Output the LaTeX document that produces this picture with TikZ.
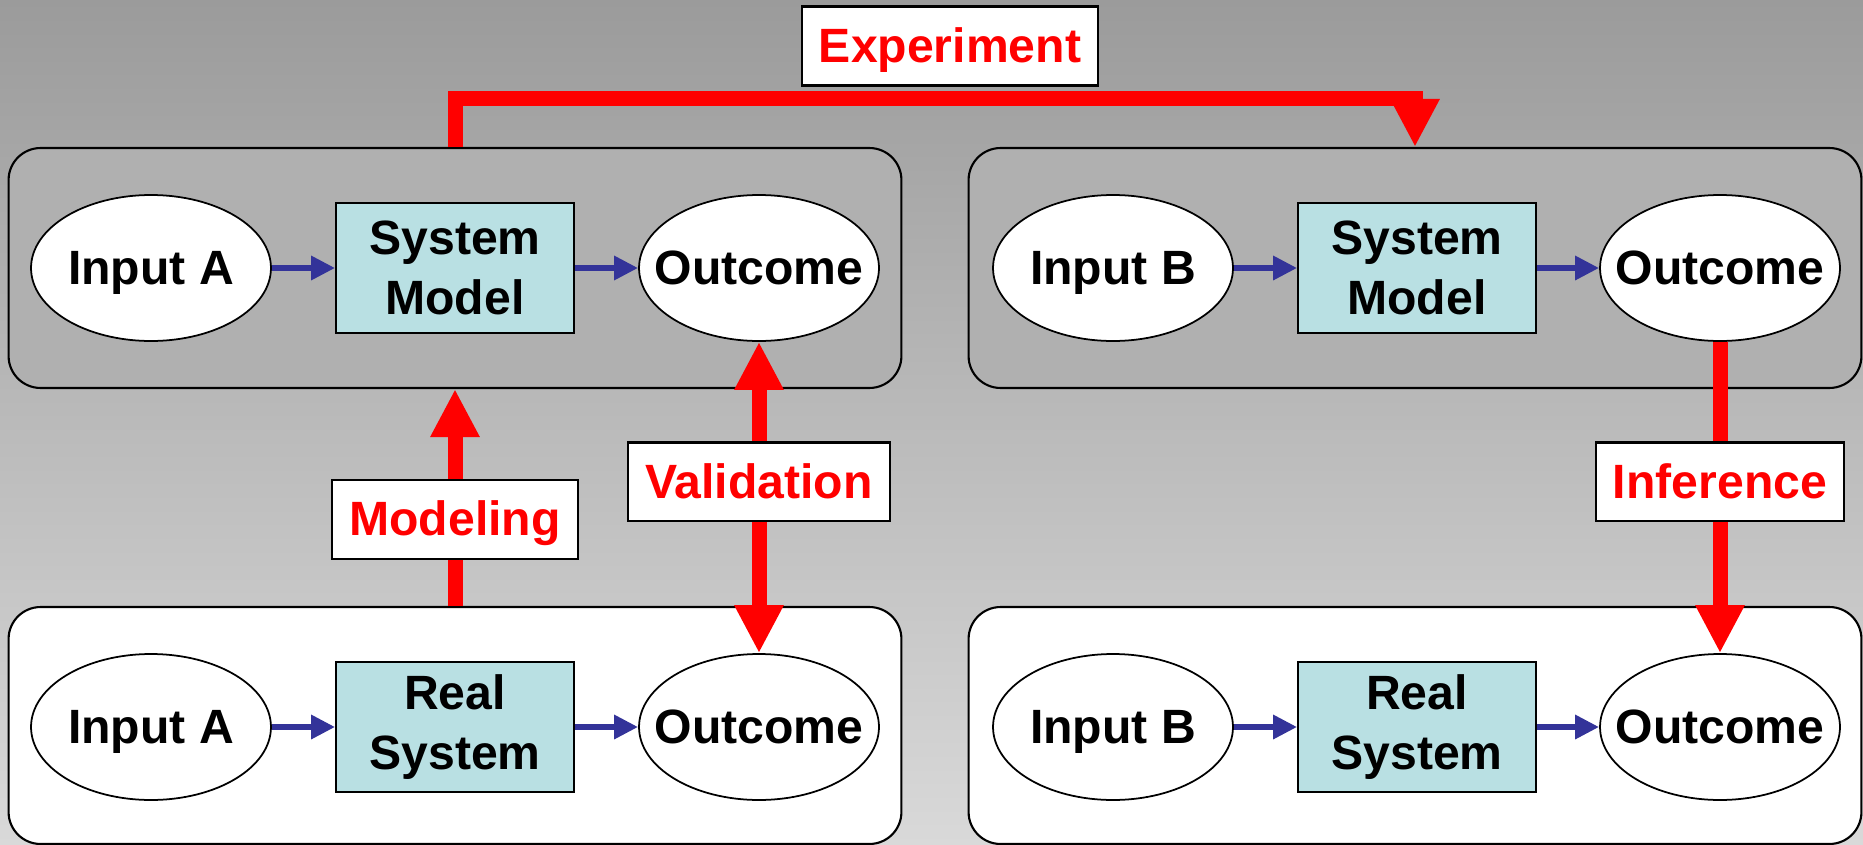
\documentclass[tikz,border=0pt]{standalone}
\usepackage{fontspec}
\setmainfont{Liberation Sans}
\usetikzlibrary{shapes.geometric, arrows.meta}
\definecolor{bgtop}{RGB}{155,155,155}
\definecolor{bgmid}{RGB}{198,198,198}
\definecolor{bgbot}{RGB}{217,217,217}
\definecolor{panelgray}{RGB}{176,176,176}
\definecolor{boxcyan}{RGB}{185,224,227}
\definecolor{flowblue}{RGB}{51,51,153}
\newcommand{\bigfont}{\fontsize{27.4}{34}\selectfont\bfseries}

\begin{document}
\begin{tikzpicture}[x=0.02cm, y=-0.02cm,
    panel/.style={draw, line width=1.2pt, rounded corners=0.64cm, minimum width=17.86cm, minimum height=4.8cm},
    state/.style={draw, ellipse, fill=white, line width=1pt, minimum width=4.8cm, minimum height=2.92cm, inner xsep=-0.5cm, inner ysep=0pt, text height=19pt, text depth=0pt, font=\bigfont},
    sysbox/.style={draw, rectangle, fill=boxcyan, line width=1pt, minimum width=4.76cm, minimum height=2.6cm, align=center, font=\bigfont},
    tag/.style={draw=black, rectangle, fill=white, line width=1.2pt, text=red, font=\bigfont, minimum height=1.58cm, inner xsep=0.34cm, text height=19pt, text depth=0pt},
    flow/.style={-{Triangle[length=0.48cm, width=0.46cm]}, flowblue, line width=0.12cm},
    redarrow/.style={-{Triangle[length=0.96cm, width=0.92cm]}, red, line width=0.3cm},
    twoway/.style={{Triangle[length=0.96cm, width=0.92cm]}-{Triangle[length=0.96cm, width=0.92cm]}, red, line width=0.3cm}]
    % Background
    \shade[top color=bgtop, middle color=bgmid, bottom color=bgbot] (0,0) rectangle (1863,845);
    \useasboundingbox (0,0) rectangle (1863,845);

    % Panels
    \node[panel, fill=panelgray] (modelPanelA) at (455,268) {};
    \node[panel, fill=panelgray] (modelPanelB) at (1415,268) {};
    \node[panel, fill=white, minimum height=4.74cm] (realPanelA) at (455,725.5) {};
    \node[panel, fill=white, minimum height=4.74cm] (realPanelB) at (1415,725.5) {};

    % Model A
    \node[state] (inA) at (151,268) {Input A};
    \node[sysbox] (simA) at (455,268) {System\\Model};
    \node[state] (outA) at (759,268) {Outcome};

    % Model B
    \node[state] (inB) at (1113,268) {Input B};
    \node[sysbox] (simB) at (1417,268) {System\\Model};
    \node[state] (outB) at (1720,268) {Outcome};

    % Real A
    \node[state] (realInA) at (151,727) {Input A};
    \node[sysbox] (realSysA) at (455,727) {Real\\System};
    \node[state] (realOutA) at (759,727) {Outcome};

    % Real B
    \node[state] (realInB) at (1113,727) {Input B};
    \node[sysbox] (realSysB) at (1417,727) {Real\\System};
    \node[state] (realOutB) at (1720,727) {Outcome};

    % Experiment label
    \node[tag] (expLabel) at (950,46) {Experiment};

    % Arrows
    \draw[flow] (inA) -- (simA);
    \draw[flow] (simA) -- (outA);
    \draw[flow] (inB) -- (simB);
    \draw[flow] (simB) -- (outB);
    \draw[flow] (realInA) -- (realSysA);
    \draw[flow] (realSysA) -- (realOutA);
    \draw[flow] (realInB) -- (realSysB);
    \draw[flow] (realSysB) -- (realOutB);
    \draw[redarrow] (modelPanelA.north) -- ++(0,-48) -| (modelPanelB.north);
    \draw[redarrow] (realPanelA.north) -- (modelPanelA.south) node[tag, pos=0.4] {Modeling};
    \draw[twoway] (realOutA.north) -- (outA.south) node[tag, pos=0.55] {Validation};
    \draw[redarrow] (outB.south) -- (realOutB.north) node[tag, pos=0.45] {Inference};
\end{tikzpicture}
\end{document}
